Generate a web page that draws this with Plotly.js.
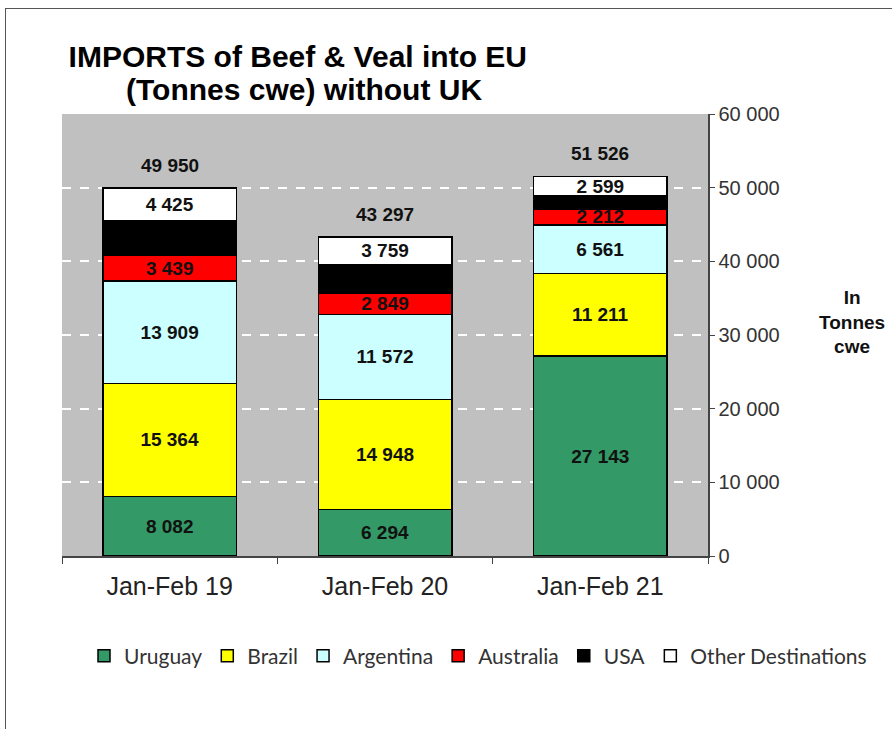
<!DOCTYPE html>
<html>
<head>
<meta charset="utf-8">
<script src="https://cdn.plot.ly/plotly-3.0.1.min.js"></script>
<style>
  html, body { margin: 0; padding: 0; background: #fff; }
  #chart { width: 892px; height: 729px; position: relative; }
  #frame { position: absolute; left: 5px; top: 8px; width: 900px; height: 740px;
           border-left: 1.5px solid #555; border-top: 1.5px solid #555; pointer-events: none; z-index: 10; }
</style>
</head>
<body>
<div id="chart"></div>
<div id="frame"></div>
<script>
const categories = ["Jan-Feb 19", "Jan-Feb 20", "Jan-Feb 21"];
const uruguay   = [8082, 6294, 27143];
const brazil    = [15364, 14948, 11211];
const argentina = [13909, 11572, 6561];
const australia = [3439, 2849, 2212];
const usa       = [4731, 3875, 1800];
const other     = [4425, 3759, 2599];
const totals    = [49950, 43297, 51526];

const seriesNames  = ["Uruguay", "Brazil", "Argentina", "Australia", "USA", "Other Destinations"];
const seriesValues = [uruguay, brazil, argentina, australia, usa, other];
const seriesColors = ["#339966", "#FFFF00", "#CCFFFF", "#FF0000", "#000000", "#FFFFFF"];
const showLabels   = [true, true, true, true, false, true];

function fmt(v) { return String(v).replace(/\B(?=(\d{3})+(?!\d))/g, " "); }

const FONT = "Liberation Sans, Arial, sans-serif";

const traces = seriesNames.map((name, i) => ({
  type: "bar",
  name: name,
  x: categories,
  y: seriesValues[i],
  width: 0.62,
  marker: { color: seriesColors[i], line: { color: "#000", width: 1.5 } },
  text: showLabels[i] ? seriesValues[i].map(fmt) : seriesValues[i].map(() => ""),
  textposition: "inside",
  insidetextanchor: "middle",
  textangle: 0,
  constraintext: "none",
  textfont: { family: FONT, size: 19, color: "#111", weight: "bold" },
  hoverinfo: "none",
  cliponaxis: false
}));

const totalAnnotations = categories.map((c, i) => ({
  x: c, y: totals[i], xref: "x", yref: "y",
  text: "<b>" + fmt(totals[i]) + "</b>",
  showarrow: false, yshift: 23,
  font: { family: FONT, size: 19, color: "#111" }
}));

const layout = {
  width: 892, height: 729,
  paper_bgcolor: "#fff",
  plot_bgcolor: "#C0C0C0",
  margin: { l: 62, r: 184, t: 114, b: 173 },
  barmode: "stack",
  bargap: 0.38,
  separators: ". ",
  showlegend: true,
  uniformtext: { mode: "show", minsize: 19 },
  title: {
    text: "<b>IMPORTS of Beef &amp; Veal into EU</b>",
    x: 0.365, xref: "paper", xanchor: "center",
    y: 1 - 56 / 729, yref: "container", yanchor: "middle",
    font: { family: FONT, size: 30, color: "#000" }
  },
  xaxis: {
    type: "category",
    tickson: "boundaries",
    ticks: "outside", ticklen: 6, tickcolor: "#444",
    showline: true, linecolor: "#444", linewidth: 1.5,
    showgrid: false,
    tickfont: { family: FONT, size: 25, color: "#222" },
    ticklabelstandoff: 7,
    fixedrange: true
  },
  yaxis: {
    side: "right",
    range: [0, 60000],
    tickvals: [0, 10000, 20000, 30000, 40000, 50000, 60000],
    tickformat: ",d",
    ticks: "outside", ticklen: 5, tickcolor: "#444",
    showline: true, linecolor: "#444", linewidth: 1.5,
    showgrid: true, gridcolor: "#FFFFFF", griddash: "dash", gridwidth: 2,
    zeroline: false,
    tickfont: { family: FONT, size: 20, color: "#333" },
    fixedrange: true
  },
  legend: {
    orientation: "h",
    x: (872 - 62) / 646, xanchor: "right",
    y: (556 - 656) / 442, yanchor: "middle",
    traceorder: "normal",
    itemwidth: 30,
    font: { family: "Lato, sans-serif", size: 21, color: "#333" },
    bgcolor: "rgba(0,0,0,0)"
  },
  annotations: totalAnnotations.concat([{
    xref: "paper", yref: "paper", x: (304 - 62) / 646, y: (556 - 90) / 442,
    xanchor: "center", yanchor: "middle",
    text: "<b>(Tonnes cwe) without UK</b>",
    showarrow: false,
    font: { family: FONT, size: 30, color: "#000" }
  }, {
    xref: "paper", yref: "paper", x: 1.223, y: 0.529,
    xanchor: "center", yanchor: "middle",
    text: "<b>In<br>Tonnes<br>cwe</b>",
    showarrow: false,
    font: { family: FONT, size: 19, color: "#111" }
  }])
};

Plotly.newPlot("chart", traces, layout, { staticPlot: true, displayModeBar: false });
</script>
</body>
</html>
